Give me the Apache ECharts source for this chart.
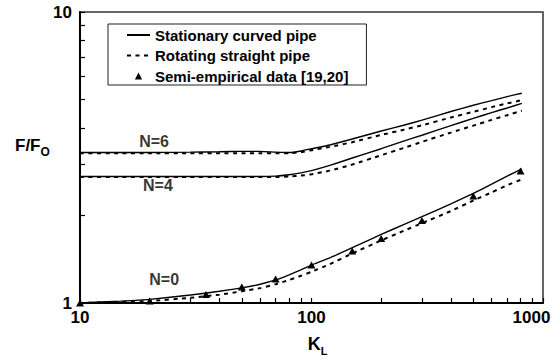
<!DOCTYPE html>
<html>
<head>
<meta charset="utf-8">
<script src="https://cdn.jsdelivr.net/npm/echarts@6/dist/echarts.min.js"></script>
<style>
  html, body { margin: 0; padding: 0; background: #fff; }
  #chart { width: 560px; height: 361px; }
</style>
</head>
<body>
<div id="chart"></div>
<script>
// K_L values where the computed curves are sampled
const kValues = [10, 15, 20, 30, 40, 50, 60, 70, 80, 90, 100, 120, 150, 200, 250, 300, 400, 500, 600, 700, 810];

// F/Fo, stationary curved pipe (solid)
const curvedN6 = [3.29, 3.29, 3.29, 3.30, 3.31, 3.32, 3.32, 3.30, 3.29, 3.33, 3.39, 3.49, 3.66, 3.90, 4.08, 4.25, 4.55, 4.78, 4.96, 5.12, 5.26];
const curvedN4 = [2.72, 2.72, 2.72, 2.72, 2.72, 2.72, 2.72, 2.73, 2.76, 2.80, 2.85, 2.97, 3.15, 3.39, 3.60, 3.77, 4.07, 4.31, 4.51, 4.68, 4.85];
const curvedN0 = [1.00, 1.015, 1.029, 1.065, 1.097, 1.127, 1.16, 1.20, 1.25, 1.30, 1.35, 1.43, 1.55, 1.72, 1.86, 1.98, 2.19, 2.38, 2.56, 2.73, 2.89];

// F/Fo, rotating straight pipe (dashed)
const rotatingN6 = [3.27, 3.27, 3.27, 3.27, 3.27, 3.27, 3.27, 3.27, 3.27, 3.30, 3.35, 3.44, 3.57, 3.78, 3.94, 4.08, 4.34, 4.54, 4.71, 4.85, 4.98];
const rotatingN4 = [2.71, 2.71, 2.71, 2.71, 2.71, 2.71, 2.71, 2.71, 2.72, 2.74, 2.77, 2.85, 2.99, 3.22, 3.41, 3.58, 3.85, 4.07, 4.26, 4.42, 4.58];
const rotatingN0 = [1.00, 1.008, 1.016, 1.042, 1.068, 1.097, 1.125, 1.16, 1.20, 1.24, 1.28, 1.36, 1.48, 1.64, 1.77, 1.88, 2.07, 2.25, 2.40, 2.54, 2.66];

// semi-empirical data [19,20]
const empiricalK = [10, 20, 35, 50, 70, 100, 150, 200, 300, 500, 800];
const empiricalF = [1.0, 1.015, 1.07, 1.135, 1.21, 1.35, 1.51, 1.665, 1.92, 2.33, 2.84];

// curve annotations
const curveLabels = ['N=6', 'N=4', 'N=0'];
const labelK = [20.9, 21.7, 23.1];
const labelF = [3.60, 2.53, 1.206];

// ticks
const xTicks = [10, 20, 30, 40, 50, 60, 70, 80, 90, 100, 200, 300, 400, 500, 600, 700, 800, 900, 1000];
const xTickLabels = [10, 100, 1000];
const yTicks = [1, 2, 3, 4, 5, 6, 7, 8, 9, 10];
const yTickLabels = [1, 10];

const FONT = '"Liberation Sans", Arial, Helvetica, sans-serif';
const CURVED = 'Stationary curved pipe';
const ROTATING = 'Rotating straight pipe';
const EMPIRICAL = 'Semi-empirical data [19,20]';

function pairs(xs, ys) {
  return xs.map((x, i) => [x, ys[i]]);
}

function curve(name, ys, dashed) {
  return {
    name: name,
    type: 'line',
    data: pairs(kValues, ys),
    symbol: 'none',
    smooth: 0.15,
    lineStyle: dashed
      ? { color: '#000', width: 2, type: [4, 4.5] }
      : { color: '#000', width: 1.4, type: 'solid' },
    itemStyle: { color: '#000' },
    z: 2
  };
}

const chart = echarts.init(document.getElementById('chart'), null, { renderer: 'svg' });

chart.setOption({
  animation: false,
  backgroundColor: '#fff',
  textStyle: { fontFamily: FONT },
  grid: {
    left: 80, right: 17, top: 12, bottom: 54,
    show: true, borderColor: '#333', borderWidth: 1.5, backgroundColor: 'transparent'
  },
  legend: {
    left: 108, top: 24,
    orient: 'vertical',
    padding: [3, 18, 1, 18],
    itemWidth: 23, itemHeight: 9, itemGap: 4.5,
    borderColor: '#222', borderWidth: 1,
    backgroundColor: '#fff',
    selectedMode: false,
    textStyle: { fontFamily: FONT, fontSize: 15, fontWeight: 'bold', color: '#000', lineHeight: 16 },
    data: [
      { name: CURVED, itemStyle: { opacity: 0 } },
      { name: ROTATING, itemStyle: { opacity: 0 } },
      { name: EMPIRICAL }
    ]
  },
  xAxis: {
    type: 'log', logBase: 10, min: 10, max: 1000,
    name: '{a|K}{b|L}',
    nameLocation: 'middle', nameGap: 29,
    nameTextStyle: {
      padding: [0, 0, 0, 12],
      rich: {
        a: { fontFamily: FONT, fontSize: 18, fontWeight: 'bold', color: '#000', lineHeight: 24 },
        b: { fontFamily: FONT, fontSize: 11, fontWeight: 'bold', color: '#000', lineHeight: 12, verticalAlign: 'bottom' }
      }
    },
    axisLine: { lineStyle: { color: '#000', width: 2 } },
    axisTick: { inside: true, length: 5, customValues: xTicks, lineStyle: { color: '#000', width: 1.2 } },
    axisLabel: {
      customValues: xTickLabels, margin: 6,
      fontFamily: FONT, fontSize: 17, fontWeight: 'bold', color: '#000',
      formatter: function (v) { return v === 1000 ? '{r|1000}' : String(v); },
      rich: {
        r: { fontFamily: FONT, fontSize: 17, fontWeight: 'bold', color: '#000', padding: [0, 23, 0, 0] }
      }
    },
    splitLine: { show: false }
  },
  yAxis: {
    type: 'log', logBase: 10, min: 1, max: 10,
    axisLine: { show: true, lineStyle: { color: '#000', width: 2 } },
    axisTick: { show: true, inside: true, length: 5, customValues: yTicks, lineStyle: { color: '#000', width: 1.2 } },
    axisLabel: {
      customValues: yTickLabels, margin: 8,
      fontFamily: FONT, fontSize: 17, fontWeight: 'bold', color: '#000'
    },
    splitLine: { show: false }
  },
  graphic: [{
    type: 'text',
    left: 15, top: 137,
    style: {
      text: '{a|F/F}{b|O}',
      rich: {
        a: { fontFamily: FONT, fontSize: 17, fontWeight: 'bold', fill: '#000', lineHeight: 24 },
        b: { fontFamily: FONT, fontSize: 12, fontWeight: 'bold', fill: '#000', lineHeight: 12, verticalAlign: 'bottom' }
      }
    }
  }],
  series: [
    curve(CURVED, curvedN6, false),
    curve(CURVED, curvedN4, false),
    curve(CURVED, curvedN0, false),
    curve(ROTATING, rotatingN6, true),
    curve(ROTATING, rotatingN4, true),
    curve(ROTATING, rotatingN0, true),
    {
      name: EMPIRICAL,
      type: 'line',
      data: pairs(empiricalK, empiricalF),
      symbol: 'triangle',
      symbolSize: [8, 7],
      showSymbol: true,
      showAllSymbol: true,
      clip: false,
      lineStyle: { opacity: 0, width: 0 },
      itemStyle: { color: '#000' },
      z: 3
    },
    {
      name: 'curve labels',
      type: 'scatter',
      silent: true,
      symbolSize: 1,
      itemStyle: { color: 'rgba(0,0,0,0)' },
      data: curveLabels.map((t, i) => ({ name: t, value: [labelK[i], labelF[i]] })),
      label: {
        show: true, position: 'inside', formatter: '{b}',
        fontFamily: FONT, fontSize: 16, fontWeight: 'bold', color: '#000'
      },
      z: 4
    }
  ]
});
</script>
</body>
</html>
